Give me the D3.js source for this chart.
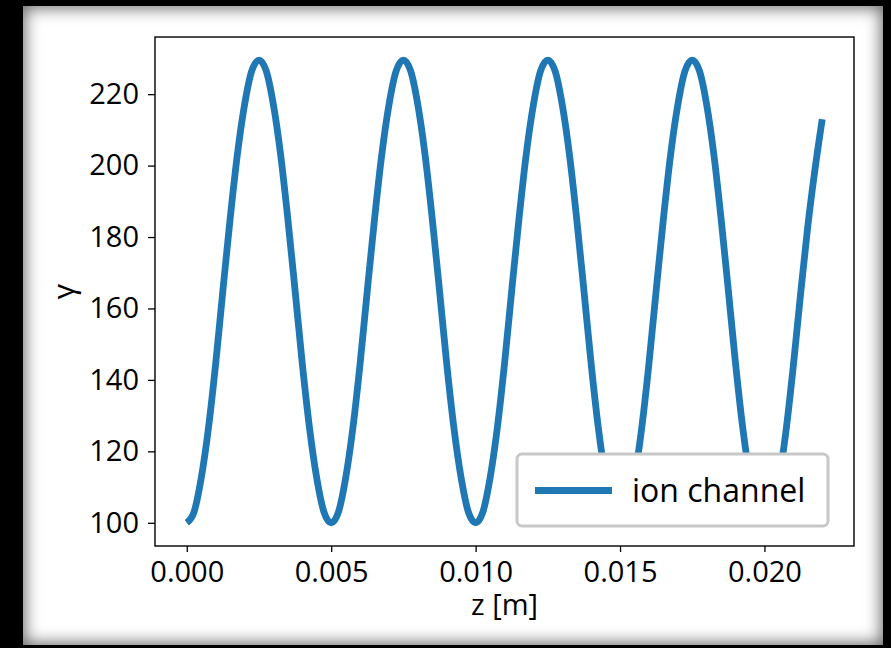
<!DOCTYPE html>
<html>
<head>
<meta charset="utf-8">
<script src="https://cdn.jsdelivr.net/npm/d3@7"></script>
<style>
  html, body { margin: 0; padding: 0; background: #000; }
  #frame {
    position: absolute; left: 23px; top: 6px; width: 860px; height: 639px;
    background: #fff;
    box-shadow: inset 0 0 16px 2px rgba(0,0,0,0.6);
  }
  svg { position: absolute; left: 0; top: 0; }
  text { font-family: "Open Sans", sans-serif; fill: #000; }
</style>
</head>
<body>
<div id="frame"></div>
<svg id="chart" width="891" height="648"></svg>
<script>
// Longitudinal position along the channel [m]
const zValues = [
  0.00000, 0.00025, 0.00050, 0.00075, 0.00100, 0.00125, 0.00150, 0.00175, 0.00200, 0.00225,
  0.00250, 0.00275, 0.00300, 0.00325, 0.00350, 0.00375, 0.00400, 0.00425, 0.00450, 0.00475,
  0.00500, 0.00525, 0.00550, 0.00575, 0.00600, 0.00625, 0.00650, 0.00675, 0.00700, 0.00725,
  0.00750, 0.00775, 0.00800, 0.00825, 0.00850, 0.00875, 0.00900, 0.00925, 0.00950, 0.00975,
  0.01000, 0.01025, 0.01050, 0.01075, 0.01100, 0.01125, 0.01150, 0.01175, 0.01200, 0.01225,
  0.01250, 0.01275, 0.01300, 0.01325, 0.01350, 0.01375, 0.01400, 0.01425, 0.01450, 0.01475,
  0.01500, 0.01525, 0.01550, 0.01575, 0.01600, 0.01625, 0.01650, 0.01675, 0.01700, 0.01725,
  0.01750, 0.01775, 0.01800, 0.01825, 0.01850, 0.01875, 0.01900, 0.01925, 0.01950, 0.01975,
  0.02000, 0.02025, 0.02050, 0.02075, 0.02100, 0.02125, 0.02150, 0.02175, 0.02200
];
// Lorentz factor of the electron in the ion channel
const gammaValues = [
  100, 103, 112.5, 126.5, 144.5, 165, 185, 203, 217, 226.5,
  229.5, 226.5, 217, 203, 185, 165, 144.5, 126.5, 112.5, 103,
  100, 103, 112.5, 126.5, 144.5, 165, 185, 203, 217, 226.5,
  229.5, 226.5, 217, 203, 185, 165, 144.5, 126.5, 112.5, 103,
  100, 103, 112.5, 126.5, 144.5, 165, 185, 203, 217, 226.5,
  229.5, 226.5, 217, 203, 185, 165, 144.5, 126.5, 112.5, 103,
  100, 103, 112.5, 126.5, 144.5, 165, 185, 203, 217, 226.5,
  229.5, 226.5, 217, 203, 185, 165, 144.5, 126.5, 112.5, 103,
  100, 103, 112, 126, 144, 164, 183, 199, 213
];
const xTicks = [0.000, 0.005, 0.010, 0.015, 0.020];
const yTicks = [100, 120, 140, 160, 180, 200, 220];
const seriesName = "ion channel";

const plot = { left: 155, right: 854, top: 37, bottom: 546 };
const svg = d3.select("#chart");

const x = d3.scaleLinear().domain([-0.0011, 0.0231]).range([plot.left, plot.right]);
const y = d3.scaleLinear().domain([93.5, 236]).range([plot.bottom, plot.top]);

const data = zValues.map((z, i) => ({ z, g: gammaValues[i] }));

svg.append("defs").append("clipPath").attr("id", "clip")
  .append("rect")
  .attr("x", plot.left).attr("y", plot.top)
  .attr("width", plot.right - plot.left).attr("height", plot.bottom - plot.top);

// gamma curve
const line = d3.line()
  .x(d => x(d.z))
  .y(d => y(d.g))
  .curve(d3.curveMonotoneX);

svg.append("path")
  .datum(data)
  .attr("clip-path", "url(#clip)")
  .attr("fill", "none")
  .attr("stroke", "#1f77b4")
  .attr("stroke-width", 6.8)
  .attr("d", line);

// axes
const xAxis = d3.axisBottom(x).tickValues(xTicks).tickFormat(d3.format(".3f")).tickSize(6).tickPadding(9);
const yAxis = d3.axisLeft(y).tickValues(yTicks).tickFormat(d3.format("d")).tickSize(7).tickPadding(9);

const gx = svg.append("g").attr("transform", `translate(0,${plot.bottom})`).call(xAxis);
const gy = svg.append("g").attr("transform", `translate(${plot.left},0)`).call(yAxis);
[gx, gy].forEach(g => {
  g.select(".domain").remove();
  g.selectAll(".tick line").attr("stroke", "#000").attr("stroke-width", 1.3);
  g.selectAll(".tick text").attr("font-size", 29).attr("font-family", "'Open Sans', sans-serif").attr("fill", "#000");
});

// axes frame
svg.append("rect")
  .attr("x", plot.left).attr("y", plot.top)
  .attr("width", plot.right - plot.left).attr("height", plot.bottom - plot.top)
  .attr("fill", "none").attr("stroke", "#000").attr("stroke-width", 1.4);

// axis titles
svg.append("text")
  .attr("x", (plot.left + plot.right) / 2).attr("y", 615)
  .attr("text-anchor", "middle").attr("font-size", 29)
  .text("z [m]");
svg.append("text")
  .attr("transform", `translate(74,${(plot.top + plot.bottom) / 2}) rotate(-90)`)
  .attr("text-anchor", "middle").attr("font-size", 30)
  .text("γ");

// legend
const lg = svg.append("g");
lg.append("rect")
  .attr("x", 517).attr("y", 454).attr("width", 311).attr("height", 72)
  .attr("rx", 5).attr("fill", "#fff").attr("stroke", "#c8c8c8").attr("stroke-width", 3);
lg.append("line")
  .attr("x1", 535).attr("x2", 612).attr("y1", 490.5).attr("y2", 490.5)
  .attr("stroke", "#1f77b4").attr("stroke-width", 7);
lg.append("text")
  .attr("x", 632).attr("y", 502).attr("font-size", 32)
  .text(seriesName);
</script>
</body>
</html>
